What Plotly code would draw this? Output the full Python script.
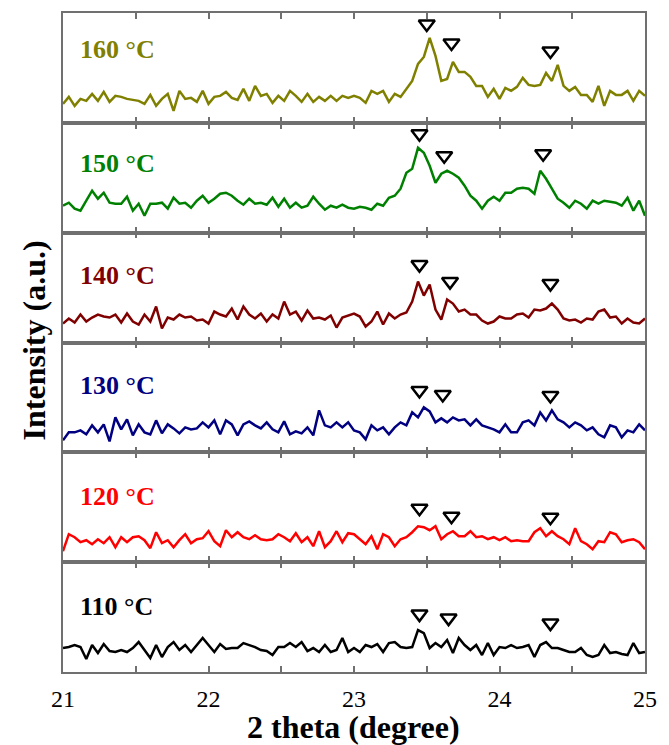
import numpy as np
import plotly.graph_objects as go
from plotly.subplots import make_subplots

# 2-theta sampling grid (degrees)
TWO_THETA = np.round(np.linspace(21.0, 25.0, 101), 2)

LABELS = ["160 °C", "150 °C", "140 °C", "130 °C", "120 °C", "110 °C"]
COLORS = ["#808000", "#008000", "#800000", "#000080", "#FF0000", "#000000"]

I_160 = [19, 26, 17, 24, 22, 29, 22, 31, 21, 27,
         26, 24, 23, 22, 19, 28, 17, 24, 29, 12,
         32, 24, 25, 21, 32, 19, 26, 27, 31, 25,
         23, 34, 22, 37, 27, 29, 20, 27, 22, 32,
         27, 21, 29, 21, 26, 22, 27, 22, 27, 25,
         27, 25, 20, 32, 29, 32, 21, 29, 26, 34,
         42, 59, 66, 85, 67, 42, 44, 61, 51, 51,
         46, 37, 37, 26, 34, 24, 35, 32, 36, 45,
         38, 37, 38, 50, 42, 58, 37, 32, 36, 28,
         28, 21, 37, 17, 32, 28, 28, 32, 22, 32, 27]

I_150 = [27, 30, 24, 22, 32, 42, 34, 40, 30, 29,
         29, 36, 22, 29, 17, 29, 29, 30, 24, 35,
         29, 30, 25, 32, 37, 30, 34, 39, 40, 37,
         32, 28, 34, 29, 30, 28, 35, 26, 34, 25,
         30, 25, 27, 36, 29, 23, 27, 25, 28, 25,
         24, 26, 25, 23, 29, 27, 35, 37, 44, 60,
         64, 85, 80, 67, 50, 59, 62, 59, 55, 47,
         37, 32, 24, 32, 36, 32, 40, 40, 44, 45,
         44, 39, 62, 54, 44, 34, 30, 25, 32, 29,
         24, 32, 29, 32, 31, 30, 27, 35, 22, 32, 17]

I_140 = [19, 24, 20, 28, 21, 25, 28, 26, 25, 28,
         20, 29, 21, 18, 28, 21, 36, 14, 25, 23,
         28, 25, 26, 22, 23, 19, 31, 28, 26, 34,
         23, 36, 28, 24, 29, 21, 28, 24, 41, 28,
         31, 22, 32, 24, 25, 23, 27, 15, 25, 27,
         29, 26, 16, 21, 31, 18, 29, 24, 28, 30,
         41, 61, 47, 58, 33, 23, 43, 39, 31, 33,
         28, 28, 22, 19, 21, 26, 24, 24, 28, 29,
         25, 33, 32, 34, 39, 33, 24, 22, 23, 20,
         24, 23, 31, 33, 25, 26, 19, 24, 20, 19, 24]

I_130 = [12, 20, 20, 22, 18, 27, 20, 28, 11, 35,
         23, 33, 17, 28, 20, 18, 32, 19, 28, 24,
         19, 25, 23, 24, 30, 25, 32, 18, 32, 28,
         17, 28, 31, 27, 24, 30, 23, 20, 31, 18,
         21, 19, 25, 17, 42, 27, 25, 30, 25, 30,
         22, 20, 13, 27, 22, 25, 18, 25, 30, 27,
         40, 35, 45, 41, 30, 34, 30, 35, 32, 33,
         27, 33, 27, 25, 23, 20, 28, 20, 20, 30,
         32, 27, 40, 32, 42, 33, 30, 25, 30, 27,
         22, 25, 18, 15, 27, 25, 15, 22, 20, 28, 22]

I_120 = [11, 28, 25, 20, 22, 18, 23, 19, 25, 15,
         25, 20, 25, 26, 22, 14, 30, 19, 22, 15,
         22, 28, 19, 23, 24, 31, 21, 16, 32, 25,
         30, 25, 23, 27, 23, 22, 23, 28, 25, 21,
         29, 20, 25, 16, 31, 15, 21, 31, 20, 29,
         28, 23, 18, 26, 13, 28, 25, 16, 23, 25,
         30, 36, 35, 32, 36, 23, 28, 31, 26, 26,
         31, 25, 26, 23, 25, 22, 25, 21, 22, 21,
         21, 30, 34, 26, 31, 26, 23, 18, 34, 21,
         18, 13, 21, 20, 30, 28, 20, 22, 23, 20, 13]

I_110 = [24, 25, 27, 25, 13, 27, 19, 28, 21, 20,
         22, 20, 24, 30, 22, 14, 27, 15, 25, 30,
         22, 27, 20, 27, 34, 27, 20, 28, 23, 24,
         24, 29, 27, 25, 22, 21, 17, 25, 25, 29,
         25, 30, 21, 24, 20, 27, 20, 22, 34, 20,
         24, 20, 27, 25, 28, 20, 29, 30, 25, 24,
         25, 42, 39, 24, 29, 25, 32, 19, 34, 27,
         22, 27, 17, 29, 17, 25, 24, 27, 24, 25,
         27, 15, 27, 30, 24, 24, 22, 20, 20, 24,
         17, 15, 17, 27, 19, 20, 18, 17, 29, 19, 20]

SERIES = [I_160, I_150, I_140, I_130, I_120, I_110]

# peak marker positions (2-theta) and marker heights per panel
PEAK_POS = [[23.50, 23.67, 24.35],
            [23.45, 23.62, 24.30],
            [23.45, 23.66, 24.35],
            [23.45, 23.61, 24.35],
            [23.45, 23.67, 24.35],
            [23.45, 23.65, 24.35]]
PEAK_H = [[99, 80, 72],
          [99, 77, 79],
          [78, 61, 59],
          [62, 58, 57],
          [54, 46, 45],
          [58, 54, 49]]

LABEL_Y = [73, 69, 67, 67, 66, 66]

FONT = "Liberation Serif"
AXC = "#707070"

fig = make_subplots(rows=6, cols=1, shared_xaxes=True, vertical_spacing=0)

for r in range(6):
    fig.add_trace(go.Scatter(x=TWO_THETA, y=SERIES[r], mode="lines",
                             line=dict(color=COLORS[r], width=2.5),
                             showlegend=False), row=r + 1, col=1)
    fig.add_trace(go.Scatter(x=PEAK_POS[r], y=PEAK_H[r], mode="markers",
                             marker=dict(symbol="triangle-down-open", size=14,
                                         color="black",
                                         line=dict(width=2.5, color="black")),
                             showlegend=False), row=r + 1, col=1)
    fig.add_annotation(x=21.1, y=LABEL_Y[r], text="<b>" + LABELS[r] + "</b>",
                       showarrow=False, xanchor="left", yanchor="middle",
                       font=dict(family=FONT, size=26, color=COLORS[r]),
                       row=r + 1, col=1)

tickvals = [21, 21.5, 22, 22.5, 23, 23.5, 24, 24.5, 25]
ticktext = ["21", "", "22", "", "23", "", "24", "", "25"]

fig.update_xaxes(range=[21, 25], tickvals=tickvals, ticktext=ticktext,
                 ticks="inside", ticklen=6, tickwidth=1.5, tickcolor=AXC,
                 showline=True, linecolor=AXC, linewidth=1.5,
                 mirror="allticks", showgrid=False, zeroline=False,
                 tickfont=dict(family=FONT, size=24, color="black"),
                 ticklabelstandoff=4)
fig.update_yaxes(range=[0, 110], showticklabels=False, ticks="",
                 showline=True, linecolor=AXC, linewidth=1.5, mirror=True,
                 showgrid=False, zeroline=False)

fig.add_annotation(xref="paper", yref="paper", x=0.499, y=-0.084,
                   text="<b>2 theta (degree)</b>", showarrow=False,
                   xanchor="center", yanchor="middle",
                   font=dict(family=FONT, size=32, color="black"))
fig.add_annotation(xref="paper", yref="paper", x=-0.05, y=0.503,
                   text="<b>Intensity (a.u.)</b>", showarrow=False,
                   textangle=-90, xanchor="center", yanchor="middle",
                   font=dict(family=FONT, size=32, color="black"))

fig.update_layout(width=669, height=745,
                  margin=dict(l=63, r=15, t=12, b=73),
                  font=dict(family=FONT, size=24, color="black"),
                  plot_bgcolor="white", paper_bgcolor="white")

fig.write_html("out.html")
